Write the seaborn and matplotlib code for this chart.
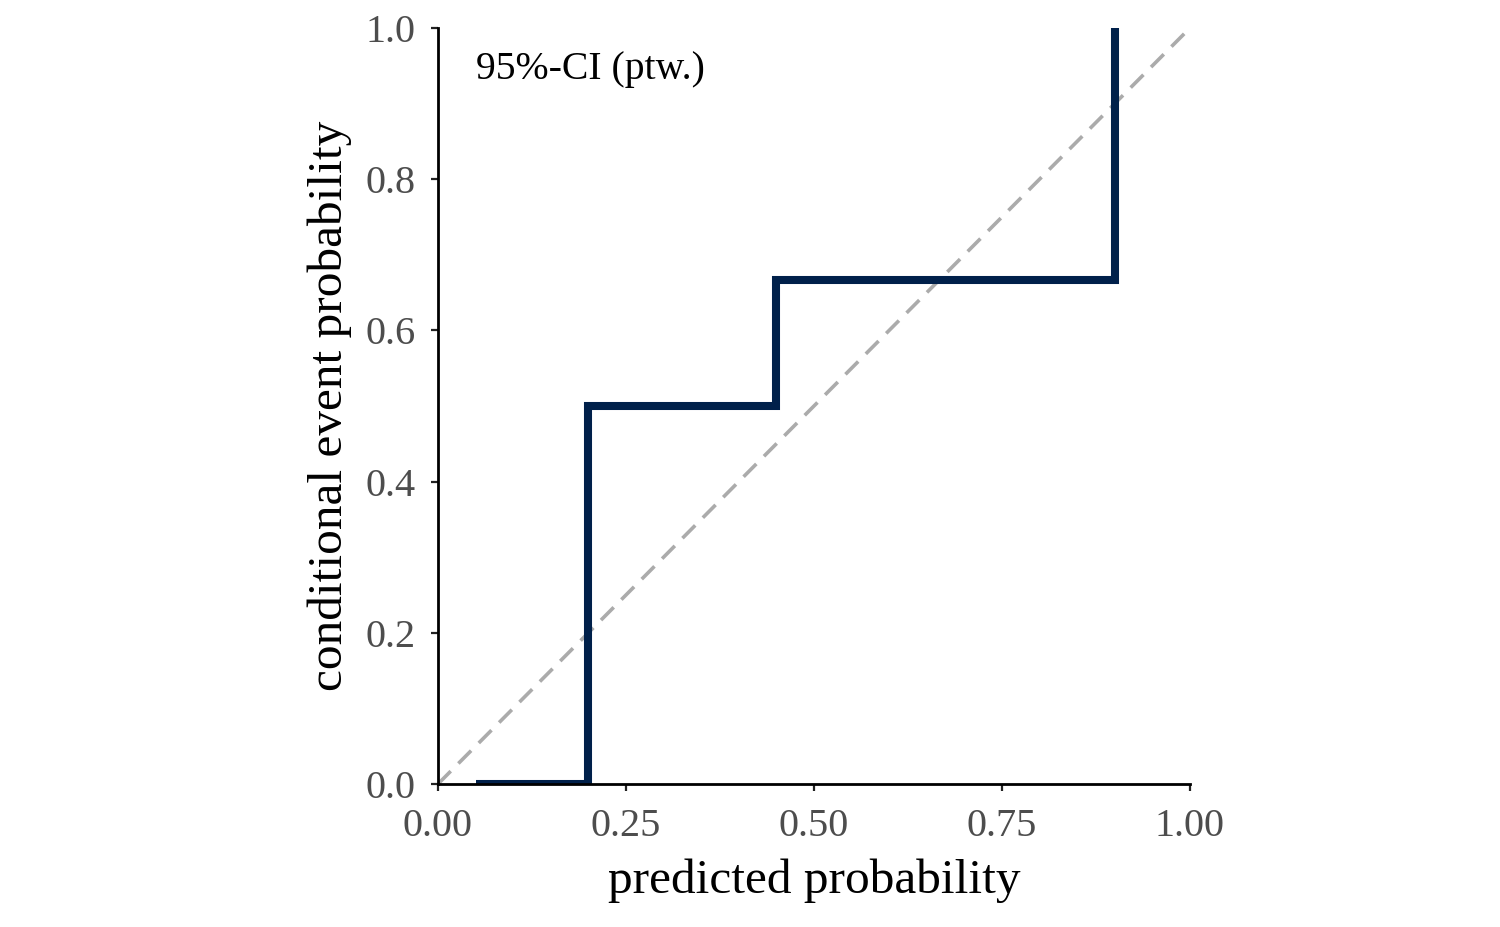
import numpy as np
import pandas as pd
import seaborn as sns
import matplotlib.pyplot as plt

# step estimate of the calibration curve
pred_prob = [0.05, 0.20, 0.45, 0.90]
cond_prob = [0.0, 0.5, 0.6667, 1.0]
diag = [0.0, 1.0]

sns.set_theme(style="ticks")
plt.rcParams["font.family"] = ["Liberation Serif", "DejaVu Serif"]

fig = plt.figure(figsize=(7.5, 4.635), dpi=200)
ax = fig.add_axes([0.292, 0.1543, 0.5013, 0.8155])

ax.plot(diag, diag, color="#ABABAB", lw=1.3, dashes=(5, 3), zorder=1)

df = pd.DataFrame({"x": pred_prob, "y": cond_prob})
sns.lineplot(data=df, x="x", y="y", ax=ax, color="#00204A", lw=2.9,
             drawstyle="steps-post", solid_capstyle="butt",
             solid_joinstyle="miter", zorder=2)

ax.text(0.05, 0.945, "95%-CI (ptw.)", fontsize=14.3, va="center", ha="left",
        color="black")

ax.set_xlim(0, 1)
ax.set_ylim(0, 1)
ax.set_xticks([0, 0.25, 0.5, 0.75, 1.0])
ax.set_xticklabels(["0.00", "0.25", "0.50", "0.75", "1.00"])
ax.set_yticks([0, 0.2, 0.4, 0.6, 0.8, 1.0])
ax.set_yticklabels(["0.0", "0.2", "0.4", "0.6", "0.8", "1.0"])
ax.tick_params(labelsize=14.5, labelcolor="#4D4D4D", color="#222222",
               length=2.5, width=0.8)
ax.tick_params(axis="x", pad=6)
ax.tick_params(axis="y", pad=5.5)
ax.set_xlabel("predicted probability", fontsize=17.8, labelpad=5,
              color="black")
ax.set_ylabel("conditional event probability", fontsize=17.8, labelpad=5,
              color="black")
for s in ["left", "bottom"]:
    ax.spines[s].set_linewidth(1.0)
    ax.spines[s].set_color("black")
sns.despine(ax=ax)

fig.savefig("out.png", dpi=200)
